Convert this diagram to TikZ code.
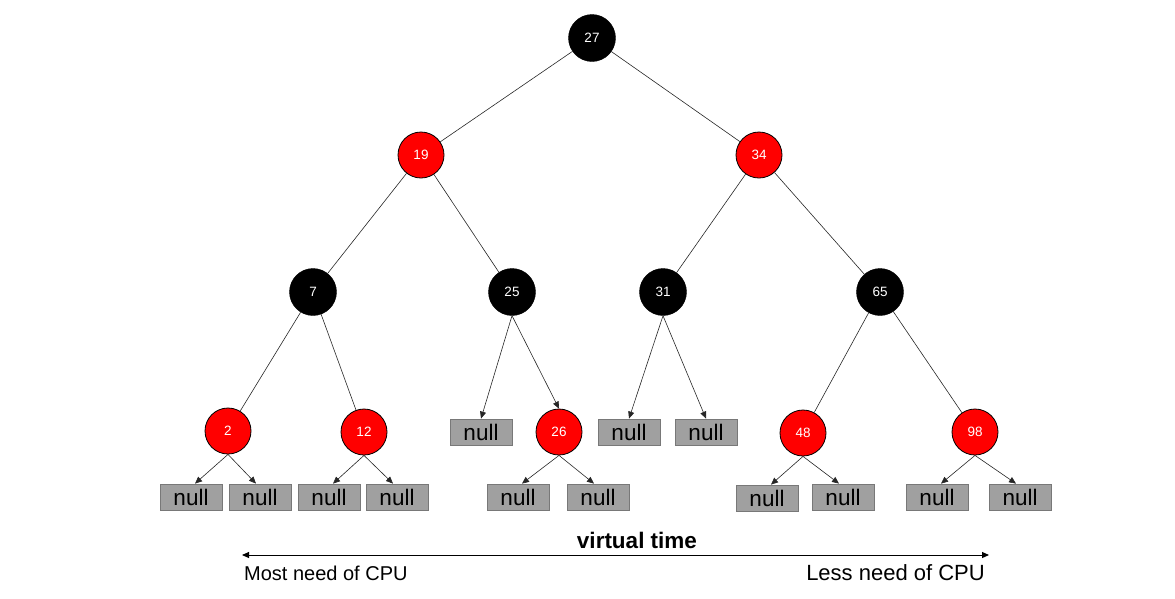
\documentclass[tikz,border=0pt]{standalone}
\usepackage{fontspec}
\setmainfont{Liberation Sans}
\usetikzlibrary{arrows.meta}
\definecolor{nullfill}{HTML}{A0A0A0}
\definecolor{nullborder}{HTML}{787878}
\definecolor{rbred}{HTML}{FF0000}
\begin{document}
\begin{tikzpicture}[x=1pt,y=-1pt,
  blk/.style={circle,fill=black,draw=black,minimum size=47pt,inner sep=0pt,text=white,font=\fontsize{13.5}{15}\selectfont},
  rd/.style={circle,fill=rbred,draw=black,line width=0.8pt,minimum size=46pt,inner sep=0pt,text=white,font=\fontsize{13.5}{15}\selectfont},
  nul/.style={rectangle,fill=nullfill,draw=nullborder,line width=0.8pt,minimum width=62pt,minimum height=26pt,inner sep=0pt,font=\fontsize{22.5}{24}\selectfont},
  edge/.style={draw=black!85,line width=0.6pt},
  arr/.style={draw=black!85,line width=0.6pt,-{Triangle[length=7pt,width=6pt]}}
]
\useasboundingbox (0,0) rectangle (1175,598);
% internal nodes
\node[blk] (n27) at (592,38) {27};
\node[rd] (n19) at (421,155) {19};
\node[rd] (n34) at (759,155) {34};
\node[blk] (n7) at (313,292) {7};
\node[blk] (n25) at (512,292) {25};
\node[blk] (n31) at (663,292) {31};
\node[blk] (n65) at (880,292) {65};
\node[rd] (n2) at (228,431) {2};
\node[rd] (n12) at (364,432) {12};
\node[rd] (n26) at (559,432) {26};
\node[rd] (n48) at (803,433) {48};
\node[rd] (n98) at (975,432) {98};
% null leaves
\node[nul] (z25) at (481,432) {null};
\node[nul] (z31a) at (629,432) {null};
\node[nul] (z31b) at (706,432) {null};
\node[nul] (z2a) at (191,497) {null};
\node[nul] (z2b) at (260,497) {null};
\node[nul] (z12a) at (329,497) {null};
\node[nul] (z12b) at (397,497) {null};
\node[nul] (z26a) at (518,497) {null};
\node[nul] (z26b) at (598,497) {null};
\node[nul] (z48a) at (767,498) {null};
\node[nul] (z48b) at (843,497) {null};
\node[nul] (z98a) at (937,497) {null};
\node[nul] (z98b) at (1020,497) {null};
% plain edges
\draw[edge] (n27) -- (n19);
\draw[edge] (n27) -- (n34);
\draw[edge] (n19) -- (n7);
\draw[edge] (n19) -- (n25);
\draw[edge] (n34) -- (n31);
\draw[edge] (n34) -- (n65);
\draw[edge] (n7) -- (n2);
\draw[edge] (n7) -- (n12);
\draw[edge] (n65) -- (n48);
\draw[edge] (n65) -- (n98);
% arrow edges
\draw[arr] (n25.south) -- (z25.north);
\draw[arr] (n25.south) -- (n26.north);
\draw[arr] (n31.south) -- (z31a.north);
\draw[arr] (n31.south) -- (z31b.north);
\draw[arr] (n2.south) -- ([xshift=4pt]z2a.north);
\draw[arr] (n2.south) -- ([xshift=-4pt]z2b.north);
\draw[arr] (n12.south) -- ([xshift=4pt]z12a.north);
\draw[arr] (n12.south) -- ([xshift=-4pt]z12b.north);
\draw[arr] (n26.south) -- ([xshift=4pt]z26a.north);
\draw[arr] (n26.south) -- ([xshift=-4pt]z26b.north);
\draw[arr] (n48.south) -- ([xshift=4pt]z48a.north);
\draw[arr] (n48.south) -- ([xshift=-4pt]z48b.north);
\draw[arr] (n98.south) -- ([xshift=4pt]z98a.north);
\draw[arr] (n98.south) -- ([xshift=-4pt]z98b.north);
% virtual time axis
\coordinate (tl) at (242,555);
\coordinate (tr) at (989,555);
\draw[line width=1pt,{Triangle[length=7pt,width=6pt]}-{Triangle[length=7pt,width=6pt]}] (tl) -- (tr);
\node[font=\bfseries\fontsize{22.5}{24}\selectfont,anchor=base] (vt) at (637,548) {virtual time};
\node[font=\fontsize{20}{24}\selectfont,anchor=base west,inner sep=0pt] (most) at (244,580) {Most need of CPU};
\node[font=\fontsize{22}{24}\selectfont,anchor=base east,inner sep=0pt] (less) at (985,580) {Less need of CPU};
\end{tikzpicture}
\end{document}
